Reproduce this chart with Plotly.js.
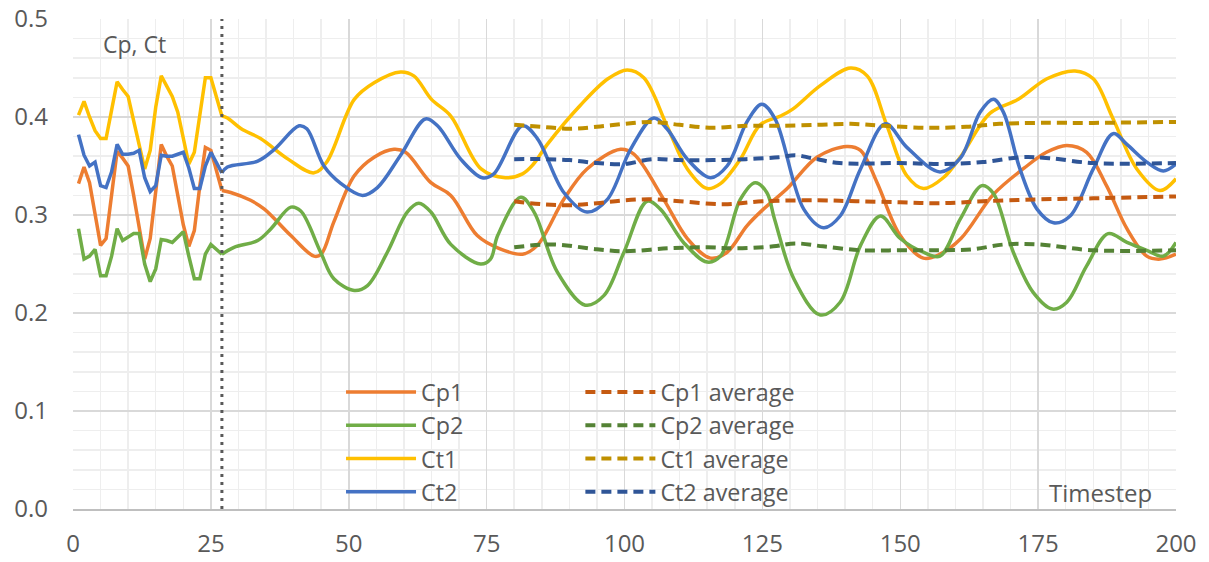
<!DOCTYPE html>
<html>
<head>
<meta charset="utf-8">
<script src="https://cdn.plot.ly/plotly-3.0.1.min.js"></script>
<style>html,body{margin:0;padding:0;background:#fff}#chart{width:1209px;height:562px}</style>
</head>
<body>
<div id="chart"></div>
<script>
// ---------- data ----------
const tEarly = [1,2,3,4,5,6,7,8,9,10,11,12,13,14,15,16,17,18,19,20,21,22,23,24,25,26,27];
const cp1Early = [0.332,0.349,0.333,0.300,0.269,0.276,0.320,0.365,0.358,0.350,0.320,0.285,0.255,0.276,0.325,0.372,0.360,0.350,0.320,0.290,0.268,0.284,0.330,0.369,0.366,0.345,0.325];
const cp2Early = [0.286,0.255,0.258,0.265,0.238,0.238,0.258,0.286,0.274,0.278,0.281,0.281,0.250,0.232,0.245,0.275,0.274,0.272,0.278,0.283,0.258,0.235,0.235,0.260,0.270,0.265,0.260];
const ct1Early = [0.402,0.416,0.400,0.386,0.378,0.378,0.407,0.436,0.428,0.421,0.396,0.372,0.347,0.366,0.410,0.442,0.432,0.421,0.405,0.380,0.352,0.364,0.405,0.440,0.440,0.420,0.401];
const ct2Early = [0.382,0.361,0.350,0.354,0.330,0.328,0.344,0.372,0.362,0.362,0.363,0.366,0.338,0.324,0.330,0.361,0.360,0.360,0.362,0.364,0.348,0.327,0.327,0.350,0.364,0.354,0.343];

const cp1T = [27,28.6,32.2,34.7,39.5,43.7,45,47.3,51,54.6,58.2,60.3,64.9,68.5,73.3,77.2,81.5,84.2,89,93.2,99.3,101.7,107.1,111.4,115.6,118.6,122.2,125,129.5,134.9,140.3,142.8,145.8,150,154.2,157.2,161,166.9,172.5,176.5,180.2,183.8,187.4,191.1,194.7,197.1,200];
const cp1Late = [0.325,0.323,0.315,0.306,0.279,0.258,0.260,0.293,0.340,0.359,0.367,0.364,0.333,0.320,0.279,0.266,0.260,0.269,0.316,0.347,0.367,0.362,0.316,0.276,0.256,0.262,0.289,0.305,0.327,0.359,0.370,0.366,0.333,0.279,0.256,0.260,0.276,0.321,0.348,0.364,0.371,0.364,0.330,0.286,0.258,0.255,0.260];

const cp2T = [27,29.2,33.5,35.9,39.5,41.3,44.9,47.3,51,53.4,57,60.6,62.7,64.9,68.5,73.9,75.7,77,81.2,83.6,87.8,92.9,96.3,99.9,104.1,106.5,110.7,115,117.4,121,123.7,125.8,127.2,130.7,135.5,139.1,142.8,146.4,150,154.2,157.2,160.9,164.8,166.9,170.5,174.1,177.6,180.2,183.8,187.7,191.1,194.7,197.7,200];
const cp2Late = [0.260,0.267,0.274,0.286,0.308,0.304,0.262,0.235,0.223,0.228,0.262,0.303,0.312,0.303,0.270,0.250,0.255,0.279,0.318,0.303,0.242,0.208,0.218,0.262,0.314,0.306,0.272,0.252,0.258,0.316,0.333,0.323,0.296,0.235,0.198,0.211,0.269,0.299,0.276,0.262,0.258,0.296,0.330,0.322,0.262,0.221,0.204,0.211,0.248,0.281,0.272,0.264,0.258,0.272];

const ct1T = [27,28,30.5,34,39,43.7,46,51,54.6,59.4,61.8,65,68.5,74,78.4,81.5,83.5,86,92,97,100.5,103.5,107.7,111.4,115,117.4,121,124.6,128.3,130.5,135.5,141,144,147.6,151.2,154.2,157.8,161,166.3,171.4,176.6,181.7,185,188.6,192.9,197.1,200];
const ct1Late = [0.401,0.399,0.388,0.378,0.357,0.343,0.354,0.418,0.435,0.446,0.442,0.418,0.401,0.347,0.338,0.342,0.352,0.372,0.412,0.439,0.448,0.440,0.391,0.347,0.327,0.332,0.357,0.392,0.401,0.408,0.432,0.450,0.442,0.391,0.340,0.327,0.338,0.360,0.404,0.418,0.439,0.447,0.439,0.398,0.347,0.325,0.337];

const ct2T = [27,28,33.5,36.5,41,42.4,45.5,48.6,52.5,55.2,59.4,63.9,66.1,70.3,74.2,76.3,81.5,84.2,89,93.2,96.9,101.1,105.3,107.7,111.4,115.6,118.6,122.2,124.9,127.3,132.5,136.1,139.1,142.8,147.3,151.2,157.2,160.9,164.5,166.9,168.7,171.7,174.8,177.8,180.8,185,188.6,191.1,194.7,197.7,200];
const ct2Late = [0.343,0.349,0.355,0.367,0.391,0.388,0.350,0.332,0.320,0.328,0.361,0.398,0.391,0.357,0.338,0.342,0.391,0.378,0.323,0.303,0.316,0.367,0.399,0.388,0.357,0.338,0.350,0.395,0.413,0.398,0.306,0.287,0.299,0.347,0.393,0.369,0.344,0.358,0.405,0.418,0.405,0.347,0.306,0.292,0.299,0.347,0.383,0.372,0.354,0.345,0.352];

const cp1AvgT = [80,85,90,95,100,105,110,118,125,135,142,150,157,165,175,185,200];
const cp1Avg  = [0.314,0.311,0.310,0.312,0.315,0.316,0.314,0.311,0.314,0.315,0.314,0.313,0.312,0.314,0.316,0.317,0.319];
const cp2AvgT = [80,87,95,100,108,115,120,127,131,136,143,150,157,163,169,175,185,200];
const cp2Avg  = [0.267,0.270,0.265,0.263,0.266,0.267,0.266,0.268,0.271,0.268,0.264,0.264,0.264,0.265,0.270,0.270,0.264,0.264];
const ct1AvgT = [80,85,90,95,100,105,110,116,122,128,135,141,147,155,162,168,175,185,200];
const ct1Avg  = [0.392,0.390,0.388,0.390,0.393,0.395,0.392,0.389,0.391,0.391,0.392,0.393,0.391,0.389,0.390,0.393,0.394,0.394,0.395];
const ct2AvgT = [80,85,90,95,100,105,110,116,122,128,131,134,139,150,158,165,172,177,185,200];
const ct2Avg  = [0.357,0.357,0.356,0.353,0.352,0.357,0.356,0.356,0.357,0.359,0.361,0.358,0.353,0.353,0.352,0.354,0.359,0.358,0.353,0.353];

const markerStep = 27;
const xTicks = [0,25,50,75,100,125,150,175,200];

// ---------- styling ----------
const FONT = "'Open Sans', 'Noto Sans', sans-serif";
const GREY = '#595959';
const series = [
  {name:'Cp1', color:'#ED7D31', te:cp1Early, tl:cp1T, yl:cp1Late},
  {name:'Cp2', color:'#70AD47', te:cp2Early, tl:cp2T, yl:cp2Late},
  {name:'Ct1', color:'#FFC000', te:ct1Early, tl:ct1T, yl:ct1Late},
  {name:'Ct2', color:'#4472C4', te:ct2Early, tl:ct2T, yl:ct2Late}
];
const avgs = [
  {name:'Cp1 average', color:'#C55A11', x:cp1AvgT, y:cp1Avg},
  {name:'Cp2 average', color:'#548235', x:cp2AvgT, y:cp2Avg},
  {name:'Ct1 average', color:'#BF9000', x:ct1AvgT, y:ct1Avg},
  {name:'Ct2 average', color:'#2F5597', x:ct2AvgT, y:ct2Avg}
];

const traces = [];
series.forEach(s => {
  traces.push({x:tEarly, y:s.te, mode:'lines', line:{color:s.color, width:3.5}, showlegend:false, legendgroup:s.name, hoverinfo:'skip'});
});
series.forEach(s => {
  traces.push({x:s.tl, y:s.yl, mode:'lines', name:s.name, legend:'legend', legendgroup:s.name,
    line:{color:s.color, width:3.5, shape:'spline', smoothing:1}});
});
avgs.forEach(a => {
  traces.push({x:a.x, y:a.y, mode:'lines', name:a.name, legend:'legend2', legendgroup:a.name,
    line:{color:a.color, width:4, shape:'spline', smoothing:1, dash:'10px,6px'}});
});

const legendCommon = {
  bgcolor:'rgba(0,0,0,0)', borderwidth:0, font:{family:FONT, size:23.3, color:GREY},
  traceorder:'grouped', tracegroupgap:0, yanchor:'top', xanchor:'left', itemwidth:70
};

const layout = {
  width:1209, height:562,
  margin:{l:73, r:33, t:19, b:53, pad:0},
  paper_bgcolor:'#ffffff', plot_bgcolor:'#ffffff',
  font:{family:FONT, color:GREY},
  showlegend:true,
  xaxis:{
    range:[0,200], tickvals:xTicks, showgrid:true, gridcolor:'#d9d9d9', gridwidth:1.5,
    minor:{dtick:5, tick0:0, showgrid:true, gridcolor:'#eeeeee', gridwidth:1.5},
    zeroline:false, showline:true, linecolor:'#bfbfbf', linewidth:1.5, ticks:'',
    tickfont:{family:FONT, size:24, color:GREY}, ticklabelstandoff:13, fixedrange:true
  },
  yaxis:{
    range:[0,0.5], dtick:0.1, tick0:0, tickformat:'.1f', showgrid:true, gridcolor:'#d9d9d9', gridwidth:1.5,
    minor:{dtick:0.02, tick0:0, showgrid:true, gridcolor:'#eeeeee', gridwidth:1.5},
    zeroline:false, showline:false, ticks:'',
    tickfont:{family:FONT, size:24, color:GREY}, ticklabelstandoff:24, fixedrange:true
  },
  legend:Object.assign({}, legendCommon, {x:0.243, y:0.283}),
  legend2:Object.assign({}, legendCommon, {x:0.460, y:0.283}),
  shapes:[{type:'line', xref:'x', yref:'paper', x0:markerStep, x1:markerStep, y0:0, y1:1,
    line:{color:GREY, width:3, dash:'3px,5px'}}],
  annotations:[
    {text:'Cp, Ct', xref:'paper', yref:'paper', x:0.025, y:0.948, xanchor:'left', yanchor:'middle', showarrow:false,
     font:{family:FONT, size:23, color:GREY}},
    {text:'Timestep', xref:'paper', yref:'paper', x:0.883, y:0.033, xanchor:'left', yanchor:'middle', showarrow:false,
     font:{family:FONT, size:24, color:GREY}}
  ]
};

Plotly.newPlot('chart', traces, layout, {staticPlot:true, displayModeBar:false});
</script>
</body>
</html>
